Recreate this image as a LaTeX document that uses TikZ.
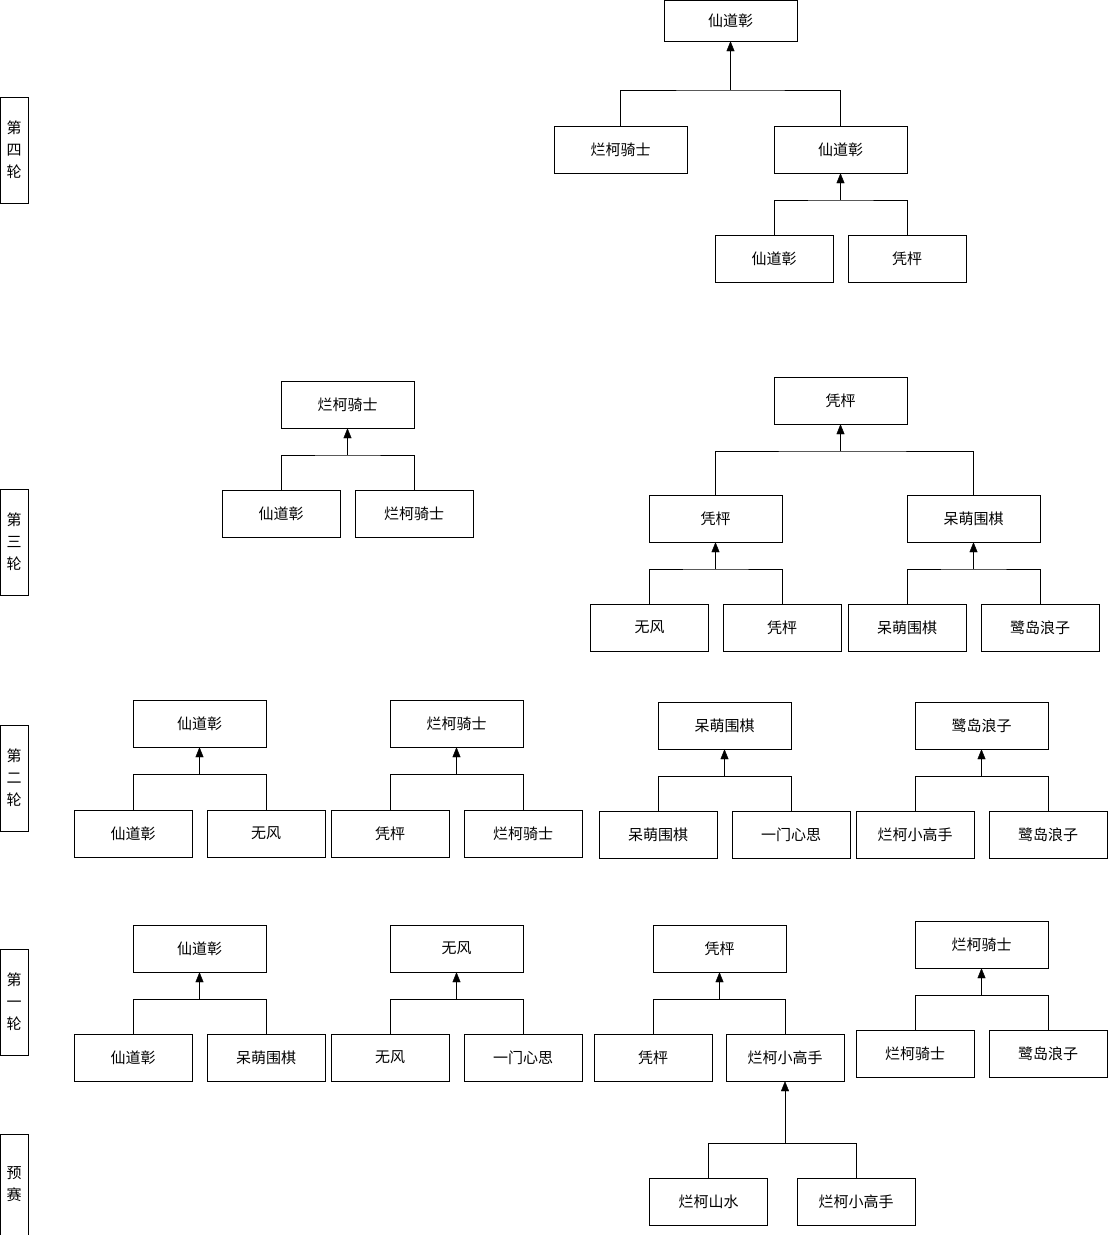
\documentclass[tikz,border=0pt]{standalone}
\usepackage{fontspec}
\setmainfont{Noto Sans CJK SC}
\usetikzlibrary{arrows.meta}

\begin{document}
\begin{tikzpicture}[x=1pt, y=-1pt]
			\tikzstyle{winner}=[
			draw,
			rectangle,
			minimum width=133pt,
			minimum height=47pt,
			inner sep=0pt,
			font=\fontsize{15}{18}\selectfont
			]
			\tikzstyle{player}=[
			winner,
			minimum width=118pt
			]
			\tikzstyle{roundlabel}=[
			draw,
			rectangle,
			minimum width=28pt,
			minimum height=106pt,
			inner sep=0pt,
			align=center,
			font=\fontsize{15}{22}\selectfont
			]
			\tikzstyle{uparrow}=[-{Triangle[width=8pt,length=10pt]}]
			\useasboundingbox (0,0) rectangle (1108,1235);
			% round labels
			\node[roundlabel] (L4) at (14,150) {第\\四\\轮};
			\node[roundlabel] (L3) at (14,542) {第\\三\\轮};
			\node[roundlabel] (L2) at (14,778) {第\\二\\轮};
			\node[roundlabel] (L1) at (14,1002) {第\\一\\轮};
			\node[roundlabel, minimum height=101pt] (L0) at (14,1184.5) {预\\赛};
			%
			% round four
			\node[winner, minimum height=41pt] (R4) at (730.5,20.5) {仙道彰};
			\node[winner] (R4a) at (620.5,149.5) {烂柯骑士};
			\node[winner] (R4b) at (840.5,149.5) {仙道彰};
			\node[player] (R4ba) at (774,259) {仙道彰};
			\node[player] (R4bb) at (907,259) {凭枰};
			\coordinate (R4j) at (730.5,90);
			\coordinate (R4bj) at (840.5,200);
			\draw (R4a.north) |- (R4j) -| (R4b.north);
			\draw[uparrow] (R4j) -- (R4.south);
			\draw (R4ba.north) |- (R4bj) -| (R4bb.north);
			\draw[uparrow] (R4bj) -- (R4b.south);
			%
			% round three
			\node[winner] (R3x) at (347.5,404.5) {烂柯骑士};
			\node[player] (R3xa) at (281,514) {仙道彰};
			\node[player] (R3xb) at (414,514) {烂柯骑士};
			\coordinate (R3xj) at (347.5,455);
			\draw (R3xa.north) |- (R3xj) -| (R3xb.north);
			\draw[uparrow] (R3xj) -- (R3x.south);
			\node[winner] (R3y) at (840.5,400.5) {凭枰};
			\node[winner] (R3ya) at (715.5,518.5) {凭枰};
			\node[winner] (R3yb) at (973.5,518.5) {呆萌围棋};
			\coordinate (R3yj) at (840.5,451);
			\draw (R3ya.north) |- (R3yj) -| (R3yb.north);
			\draw[uparrow] (R3yj) -- (R3y.south);
			\node[player] (R3yaa) at (649.5,627.5) {无风};
			\node[player] (R3yab) at (782,627.5) {凭枰};
			\node[player] (R3yba) at (907,627.5) {呆萌围棋};
			\node[player] (R3ybb) at (1040,627.5) {鹭岛浪子};
			\coordinate (R3yaj) at (715.5,569);
			\coordinate (R3ybj) at (973.5,569);
			\draw (R3yaa.north) |- (R3yaj) -| (R3yab.north);
			\draw[uparrow] (R3yaj) -- (R3ya.south);
			\draw (R3yba.north) |- (R3ybj) -| (R3ybb.north);
			\draw[uparrow] (R3ybj) -- (R3yb.south);
			%
			% round two
			\node[winner] (R2a) at (199.5,723.5) {仙道彰};
			\node[winner] (R2b) at (456.5,723.5) {烂柯骑士};
			\node[winner] (R2c) at (724.5,725.5) {呆萌围棋};
			\node[winner] (R2d) at (981.5,725.5) {鹭岛浪子};
			\node[player] (R2aa) at (133,833.5) {仙道彰};
			\node[player] (R2ab) at (266,833.5) {无风};
			\node[player] (R2ba) at (390,833.5) {凭枰};
			\node[player] (R2bb) at (523,833.5) {烂柯骑士};
			\node[player] (R2ca) at (658,834.5) {呆萌围棋};
			\node[player] (R2cb) at (791,834.5) {一门心思};
			\node[player] (R2da) at (915,834.5) {烂柯小高手};
			\node[player] (R2db) at (1048,834.5) {鹭岛浪子};
			\coordinate (R2aj) at (199.5,774);
			\coordinate (R2bj) at (456.5,774);
			\coordinate (R2cj) at (724.5,776);
			\coordinate (R2dj) at (981.5,776);
			\draw (R2aa.north) |- (R2aj) -| (R2ab.north);
			\draw[uparrow] (R2aj) -- (R2a.south);
			\draw (R2ba.north) |- (R2bj) -| (R2bb.north);
			\draw[uparrow] (R2bj) -- (R2b.south);
			\draw (R2ca.north) |- (R2cj) -| (R2cb.north);
			\draw[uparrow] (R2cj) -- (R2c.south);
			\draw (R2da.north) |- (R2dj) -| (R2db.north);
			\draw[uparrow] (R2dj) -- (R2d.south);
			%
			% round one
			\node[winner] (R1a) at (199.5,948.5) {仙道彰};
			\node[winner] (R1b) at (456.5,948.5) {无风};
			\node[winner] (R1c) at (719.5,948.5) {凭枰};
			\node[winner] (R1d) at (981.5,944.5) {烂柯骑士};
			\node[player] (R1aa) at (133,1057.5) {仙道彰};
			\node[player] (R1ab) at (266,1057.5) {呆萌围棋};
			\node[player] (R1ba) at (390,1057.5) {无风};
			\node[player] (R1bb) at (523,1057.5) {一门心思};
			\node[player] (R1ca) at (653,1057.5) {凭枰};
			\node[player] (R1cb) at (785,1057.5) {烂柯小高手};
			\node[player] (R1da) at (915,1053.5) {烂柯骑士};
			\node[player] (R1db) at (1048,1053.5) {鹭岛浪子};
			\coordinate (R1aj) at (199.5,999);
			\coordinate (R1bj) at (456.5,999);
			\coordinate (R1cj) at (719.5,999);
			\coordinate (R1dj) at (981.5,995);
			\draw (R1aa.north) |- (R1aj) -| (R1ab.north);
			\draw[uparrow] (R1aj) -- (R1a.south);
			\draw (R1ba.north) |- (R1bj) -| (R1bb.north);
			\draw[uparrow] (R1bj) -- (R1b.south);
			\draw (R1ca.north) |- (R1cj) -| (R1cb.north);
			\draw[uparrow] (R1cj) -- (R1c.south);
			\draw (R1da.north) |- (R1dj) -| (R1db.north);
			\draw[uparrow] (R1dj) -- (R1d.south);
			%
			% preliminary
			\node[player] (R0a) at (708.5,1201.5) {烂柯山水};
			\node[player] (R0b) at (856,1201.5) {烂柯小高手};
			\coordinate (R0j) at (785,1143);
			\draw (R0a.north) |- (R0j) -| (R0b.north);
			\draw[uparrow] (R0j) -- (R1cb.south);
		\end{tikzpicture}
\end{document}
